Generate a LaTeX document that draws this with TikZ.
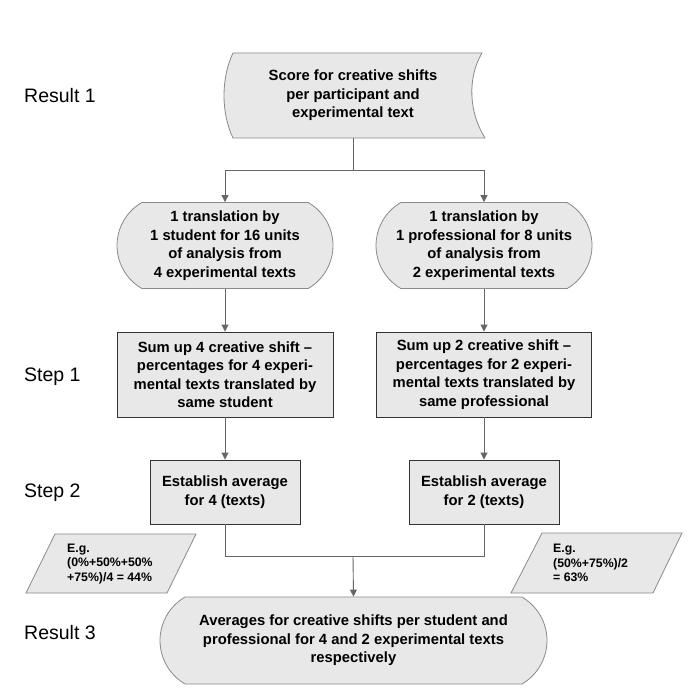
\documentclass[tikz,border=0pt]{standalone}
\usepackage{fontspec}
\setmainfont{Liberation Sans}
\usetikzlibrary{arrows.meta,shapes.misc}
\definecolor{boxfill}{HTML}{E8E8E8}
\definecolor{softline}{HTML}{8A8A8A}
\definecolor{hardline}{HTML}{333333}
\definecolor{conn}{HTML}{666666}
\tikzset{
  boxtext/.style={font=\bfseries\fontsize{14.8}{18.5}\selectfont, align=center, inner sep=0pt},
  stadium/.style={boxtext, rounded rectangle, rounded rectangle arc length=120, draw=softline, fill=boxfill, line width=0.8pt},
  plainbox/.style={boxtext, rectangle, draw=hardline, fill=boxfill, line width=0.9pt},
  sidelabel/.style={font=\fontsize{19.5}{22}\selectfont, anchor=west, inner sep=0pt},
  egtext/.style={font=\bfseries\fontsize{12.3}{14.8}\selectfont, align=left, anchor=west, inner sep=0pt},
  shapeline/.style={draw=softline, fill=boxfill, line width=0.8pt},
  conline/.style={draw=conn, line width=0.9pt},
  conarrow/.style={conline, -{Triangle[width=7pt,length=7pt]}},
}
\begin{document}
\begin{tikzpicture}[x=1pt,y=-1pt]
\useasboundingbox (0,0) rectangle (693,700);
\fill[white] (0,0) rectangle (693,700);

% top stored-data shape
\path[shapeline] (233,53) -- (482,53) .. controls (467,78) and (469,113) .. (485,138)
  -- (233,138) .. controls (221,113) and (221,78) .. (233,53) -- cycle;
\node[boxtext, minimum height=85pt] (score) at (353,95.5) {Score for creative shifts\\per participant and\\experimental text};

% side labels
\node[sidelabel] (lr1) at (24,96) {Result 1};
\node[sidelabel] (ls1) at (24,377) {Step 1};
\node[sidelabel] (ls2) at (24,493) {Step 2};
\node[sidelabel] (lr3) at (24,633) {Result 3};

% stadiums
\node[stadium, minimum width=216pt, minimum height=86pt] (stu) at (225,245.5) {1 translation by\\1 student for 16 units\\of analysis from\\4 experimental texts};
\node[stadium, minimum width=216pt, minimum height=86pt] (pro) at (484,245.5) {1 translation by\\1 professional for 8 units\\of analysis from\\2 experimental texts};

% step 1
\node[plainbox, minimum width=216pt, minimum height=85pt] (sum1) at (225,374.5) {Sum up 4 creative shift --\\percentages for 4 experi-\\mental texts translated by\\same student};
\node[plainbox, minimum width=215pt, minimum height=85pt] (sum2) at (484,374.5) {Sum up 2 creative shift --\\percentages for 2 experi-\\mental texts translated by\\same professional};

% step 2
\node[plainbox, minimum width=150pt, minimum height=64pt] (avg1) at (225,492) {Establish average\\for 4 (texts)};
\node[plainbox, minimum width=150pt, minimum height=64pt] (avg2) at (484,492) {Establish average\\for 2 (texts)};

% result 3
\node[stadium, minimum width=387pt, minimum height=87pt] (res) at (353.5,640.5) {Averages for creative shifts per student and\\professional for 4 and 2 experimental texts\\respectively};

% example parallelograms
\path[shapeline] (55,534) -- (196,534) -- (167,593) -- (26,593) -- cycle;
\node[egtext] (eg1) at (67,564) {E.g.\\(0\%+50\%+50\%\\+75\%)/4 = 44\%};
\path[shapeline] (542,533) -- (682,533) -- (653,593) -- (511,593) -- cycle;
\node[egtext] (eg2) at (553,563) {E.g.\\(50\%+75\%)/2\\= 63\%};

% connectors
\coordinate (split) at (353,170);
\coordinate (join) at (353,556);
\draw[conline] (score.south) -- (split);
\draw[conarrow] (split) -| (stu.north);
\draw[conarrow] (split) -| (pro.north);
\draw[conarrow] (stu.south) -- (sum1.north);
\draw[conarrow] (pro.south) -- (sum2.north);
\draw[conarrow] (sum1.south) -- (avg1.north);
\draw[conarrow] (sum2.south) -- (avg2.north);
\draw[conline] (avg1.south) |- (join);
\draw[conline] (avg2.south) |- (join);
\draw[conarrow] (join) -- (res.north);
\end{tikzpicture}
\end{document}
